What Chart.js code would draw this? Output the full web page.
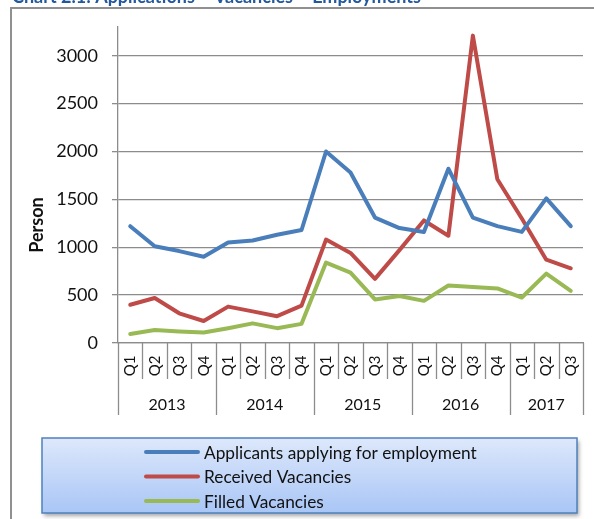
<!DOCTYPE html>
<html>
<head>
<meta charset="utf-8">
<script src="https://cdn.jsdelivr.net/npm/chart.js@4.4.1/dist/chart.umd.min.js"></script>
<style>
  html, body { margin: 0; padding: 0; background: #fff; }
</style>
</head>
<body>
<canvas id="myChart" width="594" height="519"></canvas>
<script>
// Datos del gráfico
const years = ["2013", "2014", "2015", "2016", "2017"];
const quarters = ["Q1", "Q2", "Q3", "Q4"];
const quartersPerYear = [4, 4, 4, 4, 3];
const yTicks = [0, 500, 1000, 1500, 2000, 2500, 3000];

const applicants = [1220, 1010, 960, 900, 1050, 1070, 1130, 1180, 2000, 1780, 1310, 1200, 1160, 1820, 1310, 1220, 1160, 1510, 1220];
const received = [400, 470, 310, 230, 380, 330, 280, 390, 1080, 940, 670, 970, 1280, 1120, 3210, 1710, 1300, 870, 780];
const filled = [95, 135, 120, 110, 155, 205, 155, 200, 840, 735, 455, 490, 440, 600, 585, 570, 475, 725, 545];

const seriesNames = ["Applicants applying for employment", "Received Vacancies", "Filled Vacancies"];
const seriesColors = ["#4a7ebb", "#be4b48", "#98b954"];

// Etiquetas de categoría (trimestre por año)
const labels = [];
years.forEach((y, i) => {
  quarters.slice(0, quartersPerYear[i]).forEach((q) => labels.push(q));
});

const FONT = "Lato, 'Open Sans', sans-serif";
const GRID = "#8c8c8c";

// Dibuja título, marco, etiquetas de eje en dos niveles y leyenda
const decorations = {
  id: "decorations",
  beforeDraw(chart) {
    const ctx = chart.ctx;
    ctx.save();
    // título (cortado arriba)
    ctx.fillStyle = "#24589c";
    ctx.font = "bold 18px " + FONT;
    ctx.textBaseline = "alphabetic";
    ctx.fillText("Chart 2.1: Applications – Vacancies – Employments", 12, 3);
    // marco exterior
    ctx.strokeStyle = "#909090";
    ctx.lineWidth = 2;
    ctx.beginPath();
    ctx.moveTo(11, 519);
    ctx.lineTo(11, 8);
    ctx.lineTo(594, 8);
    ctx.stroke();
    ctx.restore();
  },
  afterDraw(chart) {
    const { ctx, chartArea } = chart;
    const n = labels.length;
    const band = (chartArea.right - chartArea.left) / n;
    const base = chartArea.bottom;
    ctx.save();

    // separadores de categorías
    const yearEdges = [0];
    quartersPerYear.reduce((acc, c) => { yearEdges.push(acc + c); return acc + c; }, 0);
    ctx.strokeStyle = GRID;
    ctx.lineWidth = 1.3;
    for (let i = 0; i <= n; i++) {
      const x = Math.round(chartArea.left + i * band) + 0.5;
      ctx.beginPath();
      ctx.moveTo(x, base);
      ctx.lineTo(x, yearEdges.includes(i) ? 415 : 379);
      ctx.stroke();
    }

    // etiquetas de trimestre rotadas
    ctx.fillStyle = "#111";
    ctx.font = "15px " + FONT;
    ctx.textAlign = "center";
    ctx.textBaseline = "middle";
    labels.forEach((q, i) => {
      const xc = chart.scales.x.getPixelForValue(i);
      ctx.save();
      ctx.translate(xc, 366);
      ctx.rotate(-Math.PI / 2);
      ctx.fillText(q, 0, 0);
      ctx.restore();
    });

    // etiquetas de año
    ctx.font = "16px " + FONT;
    years.forEach((y, i) => {
      const s = yearEdges[i];
      const xc = chartArea.left + (s + quartersPerYear[i] / 2) * band;
      ctx.fillText(y, xc, 405);
    });

    // título del eje Y
    ctx.save();
    ctx.translate(37, 225);
    ctx.rotate(-Math.PI / 2);
    ctx.font = "bold 18px " + FONT;
    ctx.fillText("Person", 0, 0);
    ctx.restore();

    // leyenda
    const lx = 42, ly = 438, lw = 535, lh = 75;
    ctx.save();
    ctx.shadowColor = "rgba(0,0,0,0.35)";
    ctx.shadowBlur = 4;
    ctx.shadowOffsetX = 2;
    ctx.shadowOffsetY = 3;
    const grad = ctx.createLinearGradient(0, ly, 0, ly + lh);
    grad.addColorStop(0, "#dde8fb");
    grad.addColorStop(1, "#a9c6f6");
    ctx.fillStyle = grad;
    ctx.fillRect(lx, ly, lw, lh);
    ctx.restore();
    ctx.strokeStyle = "#4f81bd";
    ctx.lineWidth = 1.5;
    ctx.strokeRect(lx, ly, lw, lh);

    ctx.textAlign = "left";
    ctx.font = "17.3px " + FONT;
    seriesNames.forEach((name, i) => {
      const yy = 452 + i * 24.5;
      ctx.strokeStyle = seriesColors[i];
      ctx.lineWidth = 4;
      ctx.lineCap = "round";
      ctx.beginPath();
      ctx.moveTo(146, yy);
      ctx.lineTo(198, yy);
      ctx.stroke();
      ctx.fillStyle = "#111";
      ctx.fillText(name, 204, yy + 1);
    });
    ctx.restore();
  },
};

const ctx = document.getElementById("myChart").getContext("2d");
new Chart(ctx, {
  type: "line",
  data: {
    labels: labels,
    datasets: [applicants, received, filled].map((data, i) => ({
      label: seriesNames[i],
      data: data,
      borderColor: seriesColors[i],
      backgroundColor: seriesColors[i],
      borderWidth: 4,
      borderJoinStyle: "round",
      borderCapStyle: "round",
      pointRadius: 0,
      tension: 0,
      fill: false,
    })),
  },
  options: {
    responsive: false,
    animation: false,
    layout: { padding: { left: 27, right: 11, top: 27, bottom: 0 } },
    plugins: {
      legend: { display: false },
      tooltip: { enabled: false },
    },
    scales: {
      x: {
        offset: true,
        grid: { display: false },
        border: { display: true, color: GRID, width: 1.3 },
        ticks: { display: false },
        afterFit: (s) => { s.height = 176; },
      },
      y: {
        min: 0,
        max: 3300,
        afterBuildTicks: (s) => { s.ticks = yTicks.map((v) => ({ value: v })); },
        ticks: {
          padding: 14,
          color: "#111",
          font: { family: FONT, size: 18 },
          callback: (v) => String(v),
        },
        grid: { color: GRID, lineWidth: 1.3, tickLength: 6 },
        border: { color: GRID, width: 1.3 },
        afterFit: (s) => { s.width = 91; },
      },
    },
  },
  plugins: [decorations],
});
</script>
</body>
</html>
